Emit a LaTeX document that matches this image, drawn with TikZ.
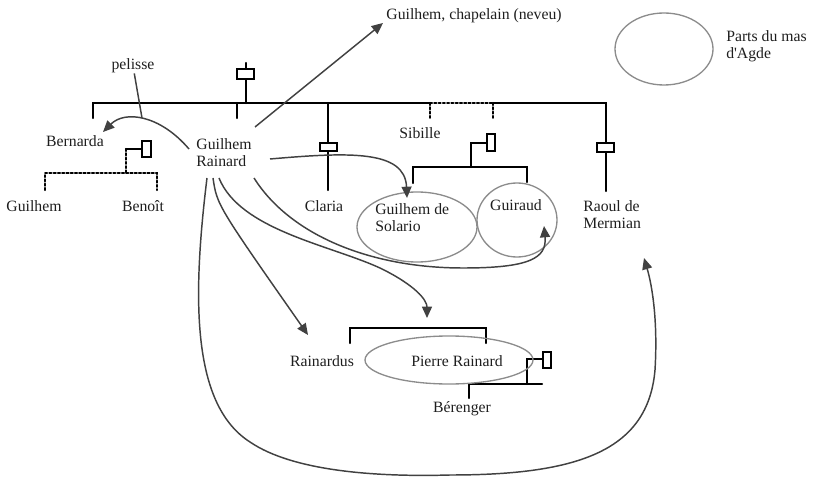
\documentclass[tikz,border=0pt]{standalone}
\usepackage{fontspec}
\setmainfont{Liberation Serif}[Ligatures=TeXOff]
\usepackage{tikz}
\usetikzlibrary{calc, arrows.meta}
\usepackage{tkz-euclide}

\definecolor{ink}{RGB}{30,30,30}
\definecolor{giftgray}{RGB}{65,65,65}
\definecolor{sharegray}{RGB}{140,140,140}

\begin{document}
\begin{tikzpicture}[x=0.75pt, y=-0.75pt,
    kin/.style={line width=1.6pt, black},
    kindot/.style={kin, dash pattern=on 1.6pt off 1.6pt},
    gift/.style={line width=1.1pt, giftgray, -{Triangle[length=8.5pt,width=7.5pt]}},
    share/.style={line width=1pt, sharegray},
    lbl/.style={inner sep=0pt, text=ink, font=\fontsize{11.8}{12.6}\selectfont}]
        \useasboundingbox (0,0) rectangle (817,477);

        % main line
        \tkzDefPoints{93/118/bL,93/103/bLt,237/103/bT,237/118/bTd,246/103/bM,246/63/bMt,328/103/bC,328/190/bCd,430/103/bS,430/118/bSd,493/103/bU,493/118/bUd,606/103/bR,606/191/bRd}
        \tkzDrawPolySeg[kin](bL,bLt,bS)
        \tkzDrawPolySeg[kin](bU,bR,bRd)
        \tkzDrawSegments[kindot](bS,bU bS,bSd bU,bUd)
        \tkzDrawSegments[kin](bT,bTd bM,bMt bC,bCd)

        % Bernarda
        \tkzDefPoints{142/149/bnR,126/149/bnC,126/173/bnJ,45/173/bnL,45/190/bnLd,157/173/bnB,157/190/bnBd}
        \tkzDrawSegment[kin](bnR,bnC)
        \tkzDrawSegment[kindot](bnC,bnJ)
        \tkzDrawPolySeg[kindot](bnLd,bnL,bnB,bnBd)

        % Sibille
        \tkzDefPoints{487/143/sbR,471/143/sbC,471/167/sbJ,413/167/sbL,413/183/sbLd,527/167/sbG,527/182/sbGd}
        \tkzDrawPolySeg[kin](sbR,sbC,sbJ)
        \tkzDrawPolySeg[kin](sbLd,sbL,sbG,sbGd)

        % Pierre Rainard
        \tkzDefPoints{350/343/prL,350/328/prLt,486/328/prRt,486/343/prR}
        \tkzDrawPolySeg[kin](prL,prLt,prRt,prR)
        \tkzDefPoints{543/359/pmR,527/359/pmC,527/384/pmJ,542/384/pmE,469/384/pmB,469/398/pmBd}
        \tkzDrawPolySeg[kin](pmR,pmC,pmJ)
        \tkzDrawPolySeg[kin](pmBd,pmB,pmE)

        % alliances
        \draw[kin, fill=white] (237,69) rectangle (254,79);
        \draw[kin, fill=white] (320,143) rectangle (337,151);
        \draw[kin, fill=white] (597,143) rectangle (614,152);
        \draw[kin, fill=white] (142,141) rectangle (151,157);
        \draw[kin, fill=white] (487,134) rectangle (495,151);
        \draw[kin, fill=white] (543,352) rectangle (551,368);

        % parts du mas
        \draw[share] (417,227) ellipse [x radius=45pt, y radius=26.25pt];
        \draw[share] (517,220) ellipse [x radius=30pt, y radius=27.75pt];
        \draw[share] (449,360) ellipse [x radius=63pt, y radius=18pt];
        \draw[share] (664,49) ellipse [x radius=36.75pt, y radius=27pt];

        % names
        \node[lbl] (chap) at (474,16) {Guilhem, chapelain (neveu)};
        \node[lbl] (pel) at (133,66) {pelisse};
        \node[lbl] (bern) at (75,141) {Bernarda};
        \node[lbl, align=left] (gr) at (224,153) {Guilhem\\Rainard};
        \node[lbl] (gui) at (34,206) {Guilhem};
        \node[lbl] (ben) at (143,206) {Beno\^{\i}t};
        \node[lbl] (cla) at (324,206) {Claria};
        \node[lbl] (sib) at (420,133) {Sibille};
        \node[lbl, align=left, anchor=west] (sol) at (375,218) {Guilhem de\\Solario};
        \node[lbl] (gir) at (516,205) {Guiraud};
        \node[lbl, align=left, anchor=west] (rao) at (583,215) {Raoul de\\Mermian};
        \node[lbl, align=left, anchor=west] (parts) at (726,46) {Parts du mas\\d'Agde};
        \node[lbl] (rai) at (322,361) {Rainardus};
        \node[lbl] (pie) at (457,361) {Pierre Rainard};
        \node[lbl] (ber) at (462,409) {B\'erenger};

        % gifts
        \coordinate (gChap) at (255,127);
        \coordinate (tChap) at (383,23);
        \coordinate (gBern) at (189,149);
        \coordinate (tBern) at (103,132);
        \coordinate (gPel) at (142,118);
        \coordinate (gSol) at (270,159);
        \coordinate (tSol) at (407,198);
        \coordinate (gGir) at (254,178);
        \coordinate (tGir) at (544,226);
        \coordinate (gRai) at (213,178);
        \coordinate (tRai) at (308,335);
        \coordinate (gPie) at (219,178);
        \coordinate (tPie) at (427,318);
        \coordinate (gRao) at (207,178);
        \coordinate (tRao) at (644,258);

        \draw[gift] (gChap) -- (tChap);
        \draw[gift] (gBern) .. controls (160,115) and (125,110) .. (tBern);
        \draw[line width=1.1pt, giftgray] (pel) -- (gPel);
        \draw[gift] (gSol) .. controls (350,152) and (405,150) .. (tSol);
        \draw[gift] (gGir) .. controls (290,235) and (370,268) .. (463,268)
            .. controls (530,268) and (547,258) .. (tGir);
        \draw[gift] (gRai) .. controls (217,205) .. (tRai);
        \draw[gift] (gPie) .. controls (240,230) and (330,245) .. (380,268)
            .. controls (415,285) and (427,300) .. (tPie);
        \draw[gift] (gRao) .. controls (192,300) and (192,405) .. (250,442)
            .. controls (294,472) and (380,477) .. (450,475)
            .. controls (580,475) and (648,450) .. (655,370)
            .. controls (658,320) and (652,285) .. (tRao);
    \end{tikzpicture}
\end{document}
